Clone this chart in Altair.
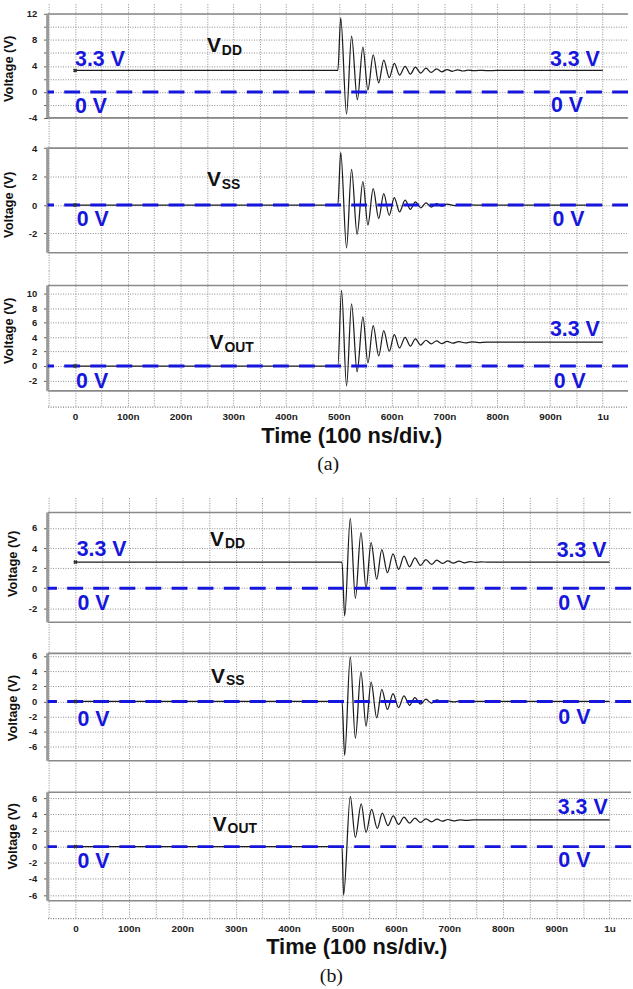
import altair as alt
import pandas as pd

FONT = "Liberation Sans"
SERIF = "Liberation Serif"
BLUE = "#1616dc"
INK = "#1c1c1c"
GRID = "#8c8c8c"
BORDER = "#8a8a8a"

# ---------------- time axis ----------------
X_TICKS = [-50, 0, 50, 100, 150, 200, 250, 300, 350, 400, 450, 500, 550,
           600, 650, 700, 750, 800, 850, 900, 950, 1000, 1050]
X_LABELS = ["", "0", "", "100n", "", "200n", "", "300n", "", "400n", "",
            "500n", "", "600n", "", "700n", "", "800n", "", "900n", "", "1u", ""]
X_TITLE = "Time (100 ns/div.)"

# ---------------- (a) VDD ----------------
A_VDD_T = [0, 498, 503.5, 514.5, 524, 535, 545.5, 555, 565, 575.5, 585, 595.5, 605, 615,
           625.5, 635.5, 645, 655, 665, 675, 685, 695, 705, 715, 725, 735, 745, 755, 765,
           780, 800, 1000]
A_VDD_V = [3.3, 3.3, 11.4, -3.4, 8.6, -1.2, 6.9, 0.3, 5.7, 1.4, 4.9, 2.2, 4.4, 2.6,
           3.95, 2.75, 3.8, 2.9, 3.65, 3.0, 3.55, 3.1, 3.45, 3.18, 3.4, 3.22, 3.36, 3.26, 3.33,
           3.28, 3.3, 3.3]
# ---------------- (a) VSS ----------------
A_VSS_T = [0, 498, 503.5, 514.5, 524, 534.5, 545.5, 555, 565, 575.5, 585, 595.5, 605, 615,
           625.5, 635.5, 645, 655, 665, 675, 685, 695, 705, 720, 740, 760, 1000]
A_VSS_V = [0, 0, 3.7, -3.0, 2.5, -2.05, 1.65, -1.4, 1.15, -0.95, 0.8, -0.72, 0.52, -0.48,
           0.35, -0.3, 0.23, -0.19, 0.16, -0.14, 0.1, -0.08, 0.06, -0.04, 0.02, 0, 0]
# ---------------- (a) VOUT ----------------
A_VOUT_T = [0, 498, 505, 514.5, 524, 534.5, 545.5, 555, 565, 575.5, 585, 595.5, 605, 615,
            625.5, 635.5, 645, 655, 665, 675, 685, 695, 705, 716, 727, 740, 752, 765, 780,
            815, 1000]
A_VOUT_V = [0, 0, 10.5, -2.75, 8.6, -0.8, 6.8, 0.45, 5.6, 1.4, 4.9, 2.05, 4.35, 2.5,
            3.98, 2.75, 3.76, 2.9, 3.57, 3.07, 3.48, 3.11, 3.43, 3.16, 3.39, 3.2, 3.35, 3.24,
            3.32, 3.3, 3.3]
# ---------------- (b) VDD ----------------
B_VDD_T = [0, 499, 504, 514.5, 524, 534.5, 544, 553.5, 564, 573.5, 584, 594.5, 605, 615,
           625.5, 635.5, 646, 656, 666.5, 676.5, 687, 697, 707.5, 718, 728.5, 739, 749, 760,
           771, 1000]
B_VDD_V = [2.6, 2.6, -2.75, 6.95, -1.0, 5.55, 0.0, 4.55, 0.9, 3.85, 1.55, 3.42, 1.88, 3.19,
           2.14, 3.03, 2.27, 2.86, 2.37, 2.8, 2.47, 2.73, 2.5, 2.7, 2.53, 2.66, 2.57, 2.63,
           2.6, 2.6]
# ---------------- (b) VSS ----------------
B_VSS_T = [0, 499, 504, 514.5, 524, 534.5, 544, 553.5, 564, 573.5, 584, 594.5, 605, 615,
           625.5, 635.5, 646, 656, 666.5, 676.5, 687, 697, 707.5, 718, 730, 745, 1000]
B_VSS_V = [0, 0, -7.1, 5.9, -4.85, 3.9, -3.25, 2.55, -2.15, 1.6, -1.05, 1.05, -0.8, 0.75,
           -0.5, 0.5, -0.35, 0.3, -0.22, 0.2, -0.1, 0.08, -0.05, 0.04, -0.02, 0, 0]
# ---------------- (b) VOUT ----------------
B_VOUT_T = [0, 499, 502, 514.5, 524, 535, 544, 554.5, 565, 574.5, 585, 595, 605, 615,
            625.5, 635.5, 646, 656, 666.5, 677, 687, 697, 708, 720, 732, 745, 770, 1000]
B_VOUT_V = [0, 0, -6.0, 6.2, 1.15, 5.3, 1.75, 4.6, 2.25, 4.15, 2.6, 3.8, 2.75, 3.65,
            2.9, 3.52, 3.0, 3.44, 3.07, 3.4, 3.15, 3.36, 3.19, 3.32, 3.24, 3.3, 3.3, 3.3]

# ---------------- y axes ----------------
Y1_TICKS = [-4, -2, 0, 2, 4, 6, 8, 10, 12]
Y1_LABELS = ["-4", "", "0", "", "4", "", "8", "", "12"]
Y2_TICKS = [-2, 0, 2, 4]
Y2_LABELS = ["-2", "0", "2", "4"]
Y3_TICKS = [-2, 0, 2, 4, 6, 8, 10]
Y3_LABELS = ["-2", "0", "2", "4", "6", "8", "10"]
Y4_TICKS = [-2, 0, 2, 4, 6]
Y4_LABELS = ["-2", "0", "2", "4", "6"]
Y5_TICKS = [-6, -4, -2, 0, 2, 4, 6]
Y5_LABELS = ["-6", "-4", "-2", "0", "2", "4", "6"]
Y6_TICKS = [-6, -4, -2, 0, 2, 4, 6]
Y6_LABELS = ["-6", "-4", "-2", "0", "2", "4", "6"]

# visible y range of each panel and its framed box
Y_DOMAINS = [[-6.3, 13.55], [-4.58, 5.07], [-5.64, 13.2], [-4.99, 9.04], [-9.96, 8.33], [-8.86, 8.59]]
BOXES = [[-4, 12], [-3.35, 4], [-3.45, 11.15], [-3.38, 7.54], [-7.83, 6.35], [-6.7, 6.74]]

# ---------------- annotations ----------------
NAMES_SUB = ["DD", "SS", "OUT", "DD", "SS", "OUT"]
NAMES_T = [250, 250, 255, 252, 254, 257]
NAMES_V = [6.1, 1.32, 2.3, 4.25, 2.48, 1.97]

LBL1_T = [0, 0, 900, 902]
LBL1_V = [4.05, -3.3, 4.0, -3.05]
LBL1_S = ["3.3 V", "0 V", "3.3 V", "0 V"]
LBL2_T = [3, 905]
LBL2_V = [-1.46, -1.46]
LBL2_S = ["0 V", "0 V"]
LBL3_T = [2, 900, 907]
LBL3_V = [-2.98, 4.12, -2.98]
LBL3_S = ["0 V", "3.3 V", "0 V"]
LBL4_T = [2.5, 4, 901, 904]
LBL4_V = [3.26, -2.14, 3.1, -2.14]
LBL4_S = ["3.3 V", "0 V", "3.3 V", "0 V"]
LBL5_T = [4, 904]
LBL5_V = [-3.19, -2.97]
LBL5_S = ["0 V", "0 V"]
LBL6_T = [4, 903, 904]
LBL6_V = [-2.65, 4.0, -2.53]
LBL6_S = ["0 V", "3.3 V", "0 V"]


def lookup_expr(ticks, labels):
    parts = [f"datum.value == {tv} ? '{lb}' : " for tv, lb in zip(ticks, labels) if lb]
    return "".join(parts) + "''"


def panel(t, v, ydom, box, yticks, ylabels, height, xdom, width, lt, lv, ls,
          nt, nv, sub, show_x, ytitle_pad, ytitle_y, xtitle_x):
    xs = alt.Scale(domain=xdom, nice=False, zero=False)
    ys = alt.Scale(domain=ydom, nice=False, zero=False)
    grid_common = dict(grid=True, gridColor=GRID, gridDash=[1, 1.5], gridWidth=1)
    if show_x:
        xaxis = alt.Axis(values=X_TICKS, labelExpr=lookup_expr(X_TICKS, X_LABELS),
                         ticks=False, tickSize=0, domain=True, domainColor="#7a7a7a",
                         domainDash=[1, 1.5], domainWidth=1.2,
                         labelFont=FONT, labelFontSize=10, labelFontWeight="bold",
                         labelColor=INK, labelPadding=5, labelOverlap=False,
                         title=X_TITLE, titleFont=FONT, titleFontSize=22,
                         titleFontWeight="bold", titleColor="#111", titlePadding=4,
                         titleX=xtitle_x, **grid_common)
    else:
        xaxis = alt.Axis(values=X_TICKS, labels=False, ticks=False, domain=False,
                         title=None, **grid_common)
    yaxis = alt.Axis(values=yticks, labelExpr=lookup_expr(yticks, ylabels),
                     ticks=True, tickSize=4, tickColor="#555", domain=False,
                     labelFont=FONT, labelFontSize=9.5, labelFontWeight="bold",
                     labelColor=INK, labelPadding=7, labelOverlap=False,
                     minExtent=24, maxExtent=24,
                     title="Voltage (V)", titleFont=FONT, titleFontSize=13,
                     titleFontWeight="bold", titleColor="#111",
                     titlePadding=ytitle_pad, titleY=ytitle_y, **grid_common)

    def X(f):
        return alt.X(f, type="quantitative", scale=xs, axis=xaxis)

    def Y(f):
        return alt.Y(f, type="quantitative", scale=ys, axis=yaxis)

    sig = pd.DataFrame({"t": t, "v": v})
    line = alt.Chart(sig).mark_line(interpolate="monotone", color=INK, strokeWidth=1.25).encode(
        x=X("t"), y=Y("v"))

    frame = alt.Chart(pd.DataFrame({"v": box})).mark_rule(color=BORDER, strokeWidth=1.6).encode(
        y=Y("v"))
    left = alt.Chart(pd.DataFrame({"t": [xdom[0]], "v": [box[0]], "v2": [box[1]]})).mark_rule(
        color="#9a9a9a", strokeWidth=3).encode(x=X("t"), y=Y("v"), y2="v2:Q")

    zero = alt.Chart(pd.DataFrame({"v": [0]})).mark_rule(
        color=BLUE, strokeWidth=3, strokeDash=[16, 10.3]).encode(y=Y("v"))

    start = alt.Chart(pd.DataFrame({"t": [t[0]], "v": [v[0]]})).mark_point(
        shape="cross", angle=45, filled=True, size=18, color="#333", opacity=1).encode(
        x=X("t"), y=Y("v"))

    lbl = alt.Chart(pd.DataFrame({"t": lt, "v": lv, "s": ls})).mark_text(
        align="left", baseline="alphabetic", font=FONT, fontSize=21.5, fontWeight="bold",
        color=BLUE).encode(x=X("t"), y=Y("v"), text="s:N")

    nm = pd.DataFrame({"t": [nt], "v": [nv], "s": ["V"], "sub": [sub]})
    name = alt.Chart(nm).mark_text(
        align="left", baseline="alphabetic", font=FONT, fontSize=21, fontWeight="bold",
        color="#111").encode(x=X("t"), y=Y("v"), text="s:N")
    subn = alt.Chart(nm).mark_text(
        align="left", baseline="alphabetic", font=FONT, fontSize=14, fontWeight="bold",
        color="#111", dx=15, dy=2.5).encode(x=X("t"), y=Y("v"), text="sub:N")

    return alt.layer(frame, left, line, zero, start, lbl, name, subn).properties(
        width=width, height=height)


XA = [-52, 1048]
WA = 585
XB = [-52, 1040]
WB = 588
HEIGHTS = [130, 138.5, 137, 142, 139.7, 142]

p1 = panel(A_VDD_T, A_VDD_V, Y_DOMAINS[0], BOXES[0], Y1_TICKS, Y1_LABELS, HEIGHTS[0], XA, WA,
           LBL1_T, LBL1_V, LBL1_S, NAMES_T[0], NAMES_V[0], NAMES_SUB[0], False, 8, 65, 306)
p2 = panel(A_VSS_T, A_VSS_V, Y_DOMAINS[1], BOXES[1], Y2_TICKS, Y2_LABELS, HEIGHTS[1], XA, WA,
           LBL2_T, LBL2_V, LBL2_S, NAMES_T[1], NAMES_V[1], NAMES_SUB[1], False, 8, 72, 306)
p3 = panel(A_VOUT_T, A_VOUT_V, Y_DOMAINS[2], BOXES[2], Y3_TICKS, Y3_LABELS, HEIGHTS[2], XA, WA,
           LBL3_T, LBL3_V, LBL3_S, NAMES_T[2], NAMES_V[2], NAMES_SUB[2], True, 8, 60, 306)
p4 = panel(B_VDD_T, B_VDD_V, Y_DOMAINS[3], BOXES[3], Y4_TICKS, Y4_LABELS, HEIGHTS[3], XB, WB,
           LBL4_T, LBL4_V, LBL4_S, NAMES_T[3], NAMES_V[3], NAMES_SUB[3], False, 4.5, 66.5, 311)
p5 = panel(B_VSS_T, B_VSS_V, Y_DOMAINS[4], BOXES[4], Y5_TICKS, Y5_LABELS, HEIGHTS[4], XB, WB,
           LBL5_T, LBL5_V, LBL5_S, NAMES_T[4], NAMES_V[4], NAMES_SUB[4], False, 4.5, 69.7, 311)
p6 = panel(B_VOUT_T, B_VOUT_V, Y_DOMAINS[5], BOXES[5], Y6_TICKS, Y6_LABELS, HEIGHTS[5], XB, WB,
           LBL6_T, LBL6_V, LBL6_S, NAMES_T[5], NAMES_V[5], NAMES_SUB[5], True, 4.5, 59, 311)

fig_a = alt.vconcat(p1, p2, p3, spacing=0).properties(
    title=alt.TitleParams("(a)", orient="bottom", font=SERIF, fontSize=20, fontWeight="normal",
                          color="#111", offset=8, anchor="middle", dx=12))
fig_b = alt.vconcat(p4, p5, p6, spacing=0).properties(
    title=alt.TitleParams("(b)", orient="bottom", font=SERIF, fontSize=20, fontWeight="normal",
                          color="#111", offset=8, anchor="middle", dx=12))

chart = alt.vconcat(fig_a, fig_b, spacing=23.5).properties(
    padding={"left": 3, "top": 0, "right": 0, "bottom": 0},
    background="white",
).configure_view(strokeWidth=0)

chart.save("out.html", embed_options={"renderer": "svg", "actions": False})
